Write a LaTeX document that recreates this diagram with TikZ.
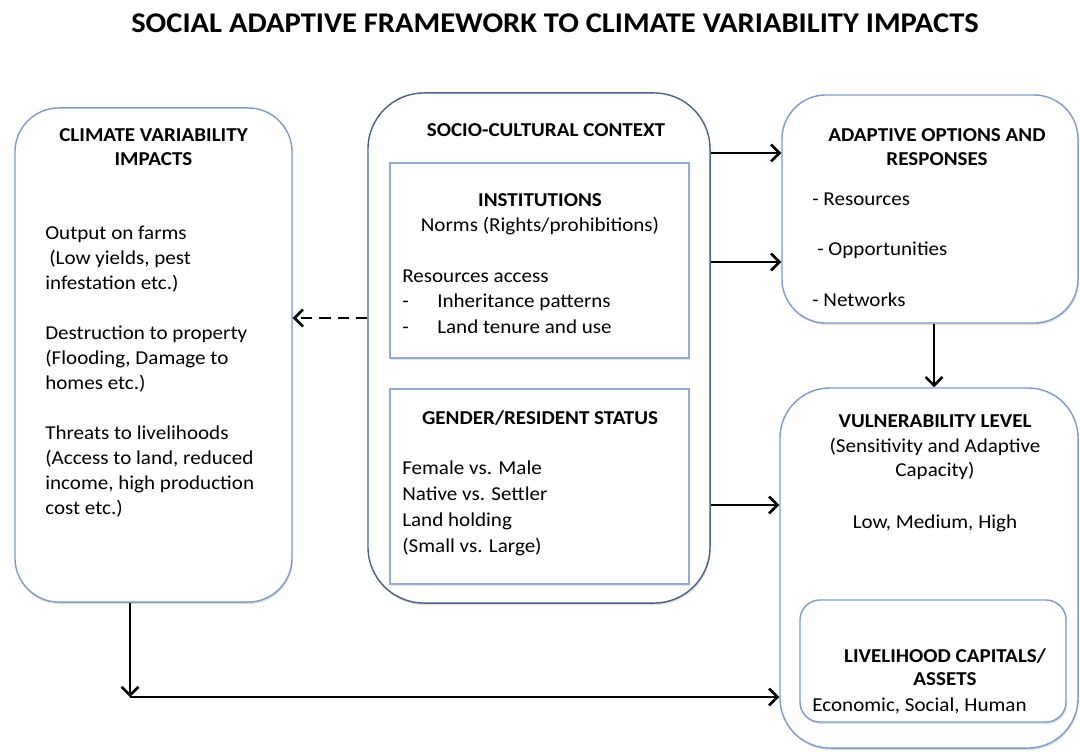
\documentclass[tikz,border=0pt]{standalone}
\usepackage{fontspec}
\setmainfont{Carlito}[FakeStretch=1.07]
\usepackage{tikz}
\usetikzlibrary{arrows.meta,shadows}
\definecolor{boxblue}{HTML}{7F9CC9}
\definecolor{ctxblue}{HTML}{4C6188}
\definecolor{rectblue}{HTML}{93ABD2}
\newcommand{\bodyfont}{\fontsize{14}{17}\selectfont}
\tikzstyle{rbox} = [draw=boxblue, line width=1pt, fill=white, rounded corners=1.1cm, drop shadow={opacity=0.25, shadow xshift=0.6pt, shadow yshift=-1.4pt}]
\tikzstyle{sbox} = [draw=rectblue, line width=1pt, fill=white, drop shadow={opacity=0.2, shadow xshift=0.6pt, shadow yshift=-1.2pt}]
\tikzstyle{arrow} = [line width=1.8pt, -{Straight Barb[length=6pt,width=12pt]}]
\tikzstyle{txt} = [anchor=base west, inner sep=0, font=\bodyfont]
\tikzstyle{ctr} = [anchor=base, inner sep=0, font=\bodyfont]
\tikzstyle{hd} = [anchor=base, inner sep=0, font=\bodyfont\bfseries]

\begin{document}
\begin{tikzpicture}[x=0.025cm, y=-0.025cm]
\useasboundingbox (0,0) rectangle (1080,751);

\node [hd, font=\fontsize{20.3}{23}\selectfont\bfseries] (title) at (555,32) {SOCIAL ADAPTIVE FRAMEWORK TO CLIMATE VARIABILITY IMPACTS};

% boxes
\node [rbox, minimum width=6.925cm, minimum height=12.35cm] (impacts) at (153.5,355) {};
\node [rbox, draw=ctxblue, rounded corners=1.4cm, minimum width=8.55cm, minimum height=12.75cm] (ctx) at (539,348) {};
\node [sbox, minimum width=7.475cm, minimum height=4.875cm] (inst) at (539.5,260.5) {};
\node [sbox, minimum width=7.475cm, minimum height=4.875cm] (gender) at (539.5,486.5) {};
\node [rbox, minimum width=7.4cm, minimum height=5.7cm] (opt) at (930,209) {};
\node [rbox, rounded corners=1.25cm, minimum width=7.45cm, minimum height=9cm] (vul) at (929,568) {};
\node [rbox, rounded corners=0.5cm, minimum width=6.65cm, minimum height=3.05cm] (assets) at (933,661) {};

% climate variability impacts
\node [hd] (imph1) at (153.5,141) {CLIMATE VARIABILITY};
\node [hd] (imph2) at (153.5,165) {IMPACTS};
\foreach \x/\y/\t [count=\i] in {45/239/Output on farms, 49/264/{(Low yields, pest}, 45/289/infestation etc.),
    45/339/Destruction to property, 45/364/{(Flooding, Damage to}, 45/389/homes etc.),
    45/439/Threats to livelihoods, 45/464/{(Access to land, reduced}, 45/489/{income, high production}, 45/514/cost etc.)}
  \node [txt] (imp\i) at (\x,\y) {\t};

% socio-cultural context
\node [hd] (ctxh) at (546,136) {SOCIO-CULTURAL CONTEXT};
\node [hd] (insth) at (540,206) {INSTITUTIONS};
\node [ctr] (norms) at (540,231) {Norms (Rights/prohibitions)};
\node [txt] (res) at (402,282) {Resources access};
\node [txt] (dash1) at (402,307) {-};
\node [txt] (inh) at (437,307) {Inheritance patterns};
\node [txt] (dash2) at (402,333) {-};
\node [txt] (land) at (437,333) {Land tenure and use};
\node [hd] (genh) at (540,424) {GENDER/RESIDENT STATUS};
\foreach \y/\t [count=\i] in {474/Female vs. Male, 500/Native vs. Settler, 526/Land holding, 552/(Small vs. Large)}
  \node [txt] (gen\i) at (402,\y) {\t};

% adaptive options
\node [hd] (opth1) at (937,141) {ADAPTIVE OPTIONS AND};
\node [hd] (opth2) at (937,165) {RESPONSES};
\node [txt] (opt1) at (812,205) {- Resources};
\node [txt] (opt2) at (817,255) {- Opportunities};
\node [txt] (opt3) at (812,306) {- Networks};

% vulnerability
\node [hd] (vulh) at (935,427) {VULNERABILITY LEVEL};
\node [ctr] (vul1) at (935,452) {(Sensitivity and Adaptive};
\node [ctr] (vul2) at (935,476) {Capacity)};
\node [ctr] (vul3) at (935,528) {Low, Medium, High};
\node [hd] (ash1) at (945,662) {LIVELIHOOD CAPITALS/};
\node [hd] (ash2) at (945,685) {ASSETS};
\node [ctr] (as1) at (919.5,711) {Economic, Social, Human};

% connectors
\draw [arrow] (ctx.east |- 0,153) -- (opt.west |- 0,153);
\draw [arrow] (ctx.east |- 0,262) -- (opt.west |- 0,262);
\draw [arrow] (ctx.east |- 0,505) -- (vul.west |- 0,505);
\draw [arrow, dash pattern=on 8pt off 5pt] (ctx.west |- 0,318) -- (impacts.east |- 0,318);
\draw [arrow] (opt.south -| 934,0) -- (vul.north -| 934,0);
\coordinate (turn) at (130,697);
\draw [arrow] (impacts.south -| turn) -- (turn);
\draw [arrow] (turn) -- (vul.west |- turn);
\end{tikzpicture}
\end{document}
